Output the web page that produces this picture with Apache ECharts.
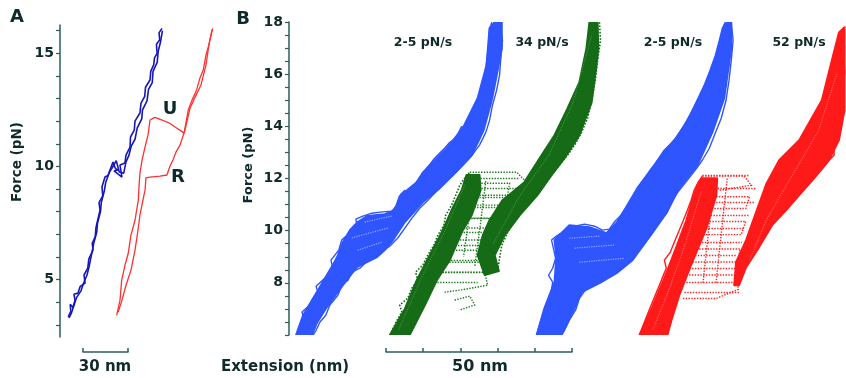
<!DOCTYPE html>
<html><head><meta charset="utf-8">
<script src="https://cdn.jsdelivr.net/npm/echarts@6/dist/echarts.min.js"></script>
<style>html,body{margin:0;padding:0;background:#fff}#c{width:846px;height:378px}</style>
</head><body><div id="c"></div>
<script>
// ---------- Panel A (x: extension nm, y: force pN) ----------
var aTicks = [3,4,5,6,7,8,9,10,11,12,13,14,15,16];
var aLabels = [5,10,15];
var aBlueUp = [[5.5,3.35],[7.2,3.6],[6.8,3.9],[8.7,3.77],[10,4.1],[9.3,4.35],[12,4.4],[13.5,4.7],[16.7,4.84],[16,5.2],[18.5,5.5],[19.2,5.9],[22,6.3],[21.5,6.6],[23.5,6.9],[24,7.3],[26.7,8.07],[26,8.4],[28.5,8.7],[28,9.1],[30,9.53],[32,9.6],[35.3,10.19],[37,9.9],[38.7,9.84],[36,9.8],[41.3,9.53],[40,10.06],[43.3,10.15],[44,10.5],[46.7,10.85],[47,11.3],[49.5,11.6],[50,12.0],[53.3,12.36],[54,12.8],[56.5,13.1],[57,13.5],[60,13.82],[60.5,14.2],[62.5,14.5],[63,14.8],[64.7,15.0],[64.3,15.4],[66.5,15.6],[66,15.9],[68,16.1]];
var aBlueDown = [[68.3,16.0],[67,15.5],[65.5,15.1],[64.8,14.6],[62,14.2],[61.5,13.7],[59,13.4],[58,12.9],[55,12.5],[54.5,12.1],[51.5,11.7],[50,11.2],[47.5,10.9],[46,10.5],[44,10.2],[42.5,9.7],[39.5,9.75],[37.5,10.25],[34.5,9.9],[33,9.75],[30.5,9.3],[29.5,8.9],[27.5,8.4],[27,8.0],[25,7.5],[24.5,7.1],[22.5,6.6],[21,6.1],[19.5,5.6],[18,5.2],[15.5,4.8],[14,4.5],[11,4.2],[9.5,3.9],[7.5,3.5],[6,3.3]];
var aRedStretch = [[37.8,3.42],[40,4.08],[41.1,4.96],[43.3,5.63],[45.5,6.16],[47.3,6.96],[50,7.62],[52.2,8.51],[52.7,9.17],[53.3,9.7],[54.7,10.28],[56.7,10.86],[58.7,11.39],[60,12.05],[63.3,12.17],[68,12.05],[73.3,11.9],[78,11.69],[82.7,11.47],[85.5,12.49],[88,12.93],[91.1,13.38],[93.3,13.91],[95.5,14.26],[97.3,14.92],[98.9,15.29],[101.8,16.1]];
var aRedRelax = [[101.3,16.03],[99.3,15.37],[97.3,14.48],[94,13.6],[90.7,13.15],[86.7,12.58],[83.3,11.6],[80,10.94],[77.3,10.63],[75.3,10.28],[73.3,10.01],[71.3,9.62],[66.7,9.57],[60,9.53],[57.3,9.49],[56.7,8.95],[55.3,8.51],[53.3,7.85],[52,7.18],[50,6.3],[47.3,5.41],[44,4.75],[41.3,4.08],[38.7,3.55]];

// ---------- Panel B (x: extension nm, y: force pN) ----------
var bTicks = [6,6.5,7,7.5,8,8.5,9,9.5,10,10.5,11,11.5,12,12.5,13,13.5,14,14.5,15,15.5,16,16.5,17,17.5,18];
var bLabels = [8,10,12,14,16,18];
var rateLabels = ['2-5 pN/s','34 pN/s','2-5 pN/s','52 pN/s'];
// bundle envelopes [extension nm, force pN]
var blue1 = [[1.9,6.0],[3.8,6.76],[6.5,7.41],[9.1,8.03],[11.8,8.68],[13.2,9.06],[14.5,9.56],[16.4,10.02],[18.5,10.33],[21.0,10.56],[25.8,10.63],[28.5,10.79],[29.8,11.32],[34.4,11.86],[37.1,12.39],[42.5,13.16],[46.8,13.93],[50.8,15.08],[53.2,16.34],[54.0,17.76],[55.4,18.0],[57.3,18.0],[57.3,16.99],[56.2,16.15],[54.6,15.0],[52.4,13.85],[49.2,12.89],[44.9,12.24],[40.6,11.63],[36.0,11.09],[31.2,10.33],[28.0,9.64],[25.8,9.26],[23.7,8.99],[18.3,8.6],[15.1,8.03],[10.2,7.07],[7.5,6.46],[6.2,6.0]];
var greenFolded = [[27.2,6.0],[31.2,7.0],[34.4,8.1],[37.9,9.06],[41.4,10.02],[43.8,10.79],[46.5,11.55],[47.8,12.13],[51.3,12.13],[51.6,11.55],[49.2,10.59],[46.8,10.02],[43.3,8.87],[39.8,8.1],[36.6,7.15],[32.5,6.0]];
var greenUnfolded = [[52.7,8.3],[50.8,9.06],[52.2,9.83],[54.0,10.4],[57.5,11.17],[63.4,11.86],[68.0,12.89],[71.5,13.66],[75.0,14.69],[78.2,15.69],[80.1,16.99],[80.9,17.99],[83.1,18.0],[83.3,16.99],[82.8,16.34],[81.5,14.92],[78.2,13.66],[74.2,12.78],[70.7,12.13],[66.9,11.36],[62.1,10.59],[58.1,9.83],[55.4,9.06],[56.5,8.45]];
var blue3 = [[66.7,6.0],[68.8,7.03],[71.5,8.03],[72.0,8.99],[71.5,9.64],[75.5,10.21],[80.9,10.13],[85.5,9.9],[88.4,10.33],[89.5,10.59],[93.8,11.63],[98.4,12.51],[101.1,13.08],[104.3,13.54],[108.6,14.54],[112.4,15.69],[115.1,16.72],[117.2,17.87],[118.0,18.0],[119.1,18.0],[119.1,16.99],[117.2,15.08],[114.0,13.77],[110.0,12.51],[105.1,11.63],[101.6,10.67],[97.8,9.9],[92.5,8.87],[88.2,8.37],[83.6,7.99],[78.8,7.64],[76.9,7.03],[73.4,6.0]];
var redFolded = [[94.4,6.0],[97.8,7.07],[101.6,8.37],[104.3,9.37],[107.0,10.4],[108.6,11.17],[110.0,11.74],[111.3,12.01],[115.3,12.01],[115.1,11.36],[112.4,10.09],[108.6,8.79],[105.1,7.53],[103.0,6.57],[101.9,6.0]];
var redUnfolded = [[119.9,7.91],[120.4,8.79],[123.1,9.64],[125.8,10.71],[128.5,11.78],[132.0,12.7],[137.4,13.47],[143.5,15.0],[146.2,16.53],[148.1,17.6],[149.6,17.8],[149.6,14.61],[148.1,13.47],[145.4,12.7],[141.4,12.01],[137.4,11.36],[133.9,10.79],[130.1,10.21],[126.6,9.37],[123.1,8.6],[121.2,7.91]];
// ragged edge traces of the bundles
var blue1Left = [[2.4,6.07],[4.0,6.65],[3.5,6.88],[5.6,7.15],[7.8,7.64],[7.3,7.87],[9.7,8.18],[11.8,8.56],[11.3,8.87],[13.4,9.25],[14.2,9.64],[15.3,9.79],[16.1,9.52],[16.9,9.9],[18.3,10.21],[18.0,10.44],[19.9,10.56],[22.3,10.67],[24.5,10.71],[27.7,10.75],[29.0,10.98],[30.1,11.4],[31.2,11.55],[32.0,11.25],[33.1,11.63],[34.7,11.94],[36.0,12.24],[37.4,12.43],[39.2,12.78],[41.9,13.16],[43.3,13.39],[44.9,13.54],[46.5,14.0],[47.3,13.85],[48.7,14.31],[50.3,14.77],[51.3,15.15],[52.7,15.77],[53.2,16.46],[53.8,17.11],[54.0,17.68],[54.6,17.99]];
var blue1Right = [[56.7,17.99],[57.5,17.3],[57.0,16.53],[56.7,15.96],[55.9,15.38],[54.8,14.81],[54.0,14.23],[53.0,13.77],[51.3,13.28],[49.7,12.97],[48.1,12.7],[46.0,12.39],[43.8,12.09],[41.9,11.82],[39.5,11.48],[37.4,11.17],[35.2,10.86],[33.1,10.48],[31.2,10.1],[29.3,9.72],[27.2,9.41],[25.0,9.18],[22.3,8.98],[20.7,8.79],[19.1,8.56],[16.9,8.41],[15.9,8.1],[14.2,7.91],[13.2,7.53],[11.0,7.15],[9.9,6.76],[8.3,6.49],[7.3,6.18],[6.5,6.0]];
var blue3Left = [[66.7,6.0],[67.7,6.49],[68.8,6.96],[69.9,7.34],[70.7,7.72],[71.0,8.03],[69.9,8.29],[71.0,8.56],[71.8,8.94],[71.2,9.33],[70.7,9.64],[72.0,9.79],[73.7,9.94],[75.0,10.1],[76.9,10.17],[79.6,10.25],[82.3,10.17],[84.4,10.02],[86.3,10.06],[87.6,10.33],[89.2,10.56],[91.1,10.94],[93.3,11.4],[95.2,11.86],[97.3,12.32],[99.7,12.78],[101.9,13.16],[104.0,13.54],[106.5,14.04],[108.3,14.54],[110.2,15.08],[111.8,15.57],[113.4,16.15],[114.8,16.72],[115.9,17.3],[116.7,17.76],[117.5,17.99]];
var blue3Right = [[119.1,17.99],[119.6,17.3],[119.1,16.53],[118.5,15.77],[117.7,15.0],[116.4,14.31],[114.8,13.74],[113.2,13.16],[111.3,12.7],[109.4,12.32],[107.3,11.94],[105.1,11.55],[103.0,11.17],[101.9,10.71],[99.7,10.33],[97.6,9.87],[95.2,9.41],[92.5,8.94],[90.1,8.6],[87.6,8.37],[85.0,8.1],[82.3,7.91],[79.8,7.72],[78.2,7.41],[77.2,6.96],[75.5,6.57],[74.2,6.18],[73.4,6.0]];
var greenLeft = [[27.2,6.0],[28.8,6.49],[30.4,6.88],[29.8,7.15],[32.0,7.41],[33.1,7.8],[34.7,8.1],[34.1,8.41],[36.0,8.68],[37.4,9.06],[39.0,9.44],[40.1,9.83],[41.7,10.21],[42.2,10.59],[43.8,10.98],[44.9,11.36],[46.0,11.74],[47.3,12.01],[48.7,12.24]];
var greenRight = [[83.6,17.99],[83.9,17.3],[83.1,16.53],[82.5,15.77],[81.5,15.0],[80.4,14.31],[78.8,13.77],[76.9,13.28],[75.0,12.89],[72.8,12.51],[70.7,12.13],[68.8,11.82],[66.9,11.48],[64.8,11.09],[62.6,10.71],[60.8,10.4],[58.9,9.94],[57.3,9.44],[56.7,8.94],[56.2,8.48]];
var redLeft = [[94.4,6.0],[95.7,6.49],[97.0,6.96],[98.1,7.34],[99.2,7.72],[100.5,8.18],[101.6,8.56],[101.1,8.87],[102.7,9.18],[104.0,9.64],[105.1,10.02],[106.2,10.4],[107.3,10.79],[108.3,11.17],[109.1,11.55],[110.2,11.86],[111.3,12.09]];
var redRight = [[149.7,16.15],[148.9,15.0],[148.1,14.04],[146.8,13.28],[146.8,12.89],[144.9,12.62],[142.7,12.24],[140.6,11.94],[138.7,11.63],[136.8,11.32],[134.7,10.98],[132.5,10.63],[130.6,10.33],[128.8,9.94],[126.6,9.44],[124.5,8.94],[122.6,8.48],[121.2,8.03]];
// light speckle strokes inside the dense bundles
var blue1Speckles = [[[20.4,10.33],[27.7,10.56]],[[16.9,9.72],[26.6,10.1]],[[18.5,9.25],[25.0,9.56]]];
var blue3Speckles = [[[76.9,9.33],[87.6,9.45]],[[78.2,8.79],[90.3,8.94]],[[75.5,9.71],[83.6,9.79]]];
var greenSpeckles = [[[29.5,6.2],[36.0,8.3],[42.0,10.0],[47.5,11.8]],[[55.0,9.5],[62.0,11.3],[70.0,12.9],[76.5,14.9],[81.5,17.5]]];
var redSpeckles = [[[98.0,6.2],[102.5,7.8],[106.5,9.4],[111.0,11.5]],[[123.0,8.5],[128.5,10.4],[135.0,12.0],[142.5,13.8],[147.5,16.0]]];
// transitions [x start nm, x end nm, force pN]
var greenJumps = [[47.8,62.1,12.0],[47.3,63.4,11.63],[46.0,60.8,11.28],[44.6,59.9,10.9],[43.8,58.1,10.48],[42.5,56.7,9.94],[42.5,55.9,9.44],[40.6,54.0,8.87],[39.8,53.5,8.41],[39.2,50.8,8.03]];
var redJumps = [[111.3,123.9,12.13],[112.4,125.8,11.63],[110.5,125.3,11.09],[111.3,123.9,10.59],[110.0,122.8,10.09],[109.7,122.0,9.56],[108.6,120.4,9.06],[107.8,121.2,8.56],[107.0,120.4,8.03],[106.5,121.2,7.64]];
// unfold/refold loops (dotted)
var greenLoops = [
  [[48.7,12.24],[61.3,12.24],[63.4,11.94]],
  [[47.3,11.82],[59.4,11.82],[58.9,11.36],[48.7,11.36]],
  [[45.4,10.98],[58.1,10.98],[56.7,10.48],[44.6,10.48]],
  [[43.8,10.1],[55.9,10.1],[55.1,9.64],[43.3,9.64]],
  [[42.7,9.25],[54.6,9.25],[54.0,8.79],[41.9,8.79]],
  [[40.6,8.41],[52.7,8.41],[53.5,7.91],[46.0,7.72],[41.9,7.64]],
  [[37.9,8.1],[34.7,7.72],[33.9,7.34],[36.6,7.15]],
  [[44.6,7.34],[48.7,7.49],[50.0,7.15],[46.0,6.96]],
  [[50.0,12.1],[48.5,10.5],[47.0,9.0]],
  [[53.0,11.9],[51.5,10.2],[50.0,8.6]]
];
var redLoops = [
  [[111.3,12.09],[122.6,12.09],[124.5,11.74],[115.9,11.55]],
  [[110.5,11.3],[124.0,11.3],[123.0,10.85],[110.0,10.85]],
  [[109.5,10.35],[123.0,10.35],[121.8,9.85],[108.8,9.85]],
  [[108.2,9.3],[121.5,9.3],[120.8,8.8],[107.5,8.8]],
  [[107.0,8.3],[120.5,8.3],[121.0,7.75],[115.0,7.4],[106.0,7.4]],
  [[114.5,12.0],[113.0,10.0],[111.5,8.0]],
  [[118.0,12.0],[116.5,10.0],[115.0,8.0]]
];

var axisColor = '#2b5e5e', textColor = '#0f2a2a';
var BLUE = '#2f55ff', GREEN = '#166b16', RED = '#ff1a1a';
var FONT = '"DejaVu Sans", sans-serif';

function poly(env, color){
  return {type:'custom', xAxisIndex:1, yAxisIndex:1, clip:true, data:env, silent:true,
    renderItem:function(params, api){
      if(params.dataIndex!==0) return null;
      var pts = env.map(function(p){return api.coord(p);});
      return {type:'polygon', shape:{points:pts}, style:{fill:color, stroke:color, lineWidth:2, lineJoin:'round'}};
    }};
}
function jumps(arr, color){
  return {type:'lines', coordinateSystem:'cartesian2d', xAxisIndex:1, yAxisIndex:1, silent:true,
    lineStyle:{color:color, width:1.4, type:'dotted', opacity:1},
    data: arr.map(function(j){return {coords:[[j[0],j[2]],[j[1],j[2]]]};})};
}
function polylines(arr, color, type, width, opacity){
  return {type:'lines', coordinateSystem:'cartesian2d', xAxisIndex:1, yAxisIndex:1, silent:true, polyline:true,
    lineStyle:{color:color, width:width, type:type, opacity:opacity},
    data: arr.map(function(c){return {coords:c};})};
}
function trace(d, color, xi, w, type){
  return {type:'line', data:d, xAxisIndex:xi, yAxisIndex:xi, showSymbol:false, silent:true,
    lineStyle:{color:color, width:w||1.3, type:type||'solid'}};
}
function txt(x,y,t,size,rot){
  return {type:'text', x:x, y:y, rotation:rot||0, silent:true,
    style:{text:t, font:'bold '+size+'px '+FONT, fill:textColor, textAlign:'center', textVerticalAlign:'middle', align:'center', verticalAlign:'middle'}};
}
var yLab = {fontSize:14, fontWeight:'bold', fontFamily:FONT, color:textColor, margin:6};

var chart = echarts.init(document.getElementById('c'), null, {renderer:'canvas'});
chart.setOption({
  animation:false,
  backgroundColor:'#fff',
  grid:[
    {left:60, top:25, width:165, height:312},
    {left:289, top:22, width:557, height:313},
    {left:83, top:340, width:45, height:12},
    {left:386, top:340, width:186, height:12}
  ],
  xAxis:[
    {type:'value', gridIndex:0, min:0, max:110, show:false},
    {type:'value', gridIndex:1, min:0, max:150, show:false},
    {type:'value', gridIndex:2, min:0, max:30, interval:30, axisLine:{lineStyle:{color:axisColor,width:1.5}}, axisTick:{inside:true,length:4,lineStyle:{color:axisColor,width:1.5}}, axisLabel:{show:false}, splitLine:{show:false}},
    {type:'value', gridIndex:3, min:0, max:50, interval:10, axisLine:{lineStyle:{color:axisColor,width:1.5}}, axisTick:{inside:true,length:4,lineStyle:{color:axisColor,width:1.5}}, axisLabel:{show:false}, splitLine:{show:false}}
  ],
  yAxis:[
    {type:'value', gridIndex:0, min:2.46, max:16.25, axisLine:{show:true,lineStyle:{color:axisColor,width:1.5}},
      axisTick:{show:true,length:4,customValues:aTicks,lineStyle:{color:axisColor,width:1.2}},
      axisLabel:Object.assign({customValues:aLabels}, yLab), splitLine:{show:false}},
    {type:'value', gridIndex:1, min:6, max:18, axisLine:{show:true,lineStyle:{color:axisColor,width:1.5}},
      axisTick:{show:true,length:4,customValues:bTicks,lineStyle:{color:axisColor,width:1.2}},
      axisLabel:Object.assign({customValues:bLabels}, yLab), splitLine:{show:false}},
    {type:'value', gridIndex:2, show:false, min:0, max:1},
    {type:'value', gridIndex:3, show:false, min:0, max:1}
  ],
  series:[
    trace(aBlueUp,'#1616b8',0,1.6), trace(aBlueDown,'#1616b8',0,1.6),
    trace(aRedStretch,'#ff3030',0,1.3), trace(aRedRelax,'#ff3030',0,1.3),
    jumps(greenJumps,'#1d7a1d'), jumps(redJumps,'#ff2020'),
    polylines(greenLoops,'#1d7a1d','dotted',1.4,1), polylines(redLoops,'#ff2020','dotted',1.4,1),
    poly(blue1,BLUE), poly(greenFolded,GREEN), poly(greenUnfolded,GREEN),
    poly(blue3,BLUE), poly(redFolded,RED), poly(redUnfolded,RED),
    trace(blue1Left,BLUE,1,1.4), trace(blue1Right,BLUE,1,1.4),
    trace(blue3Left,BLUE,1,1.4), trace(blue3Right,BLUE,1,1.4),
    trace(greenLeft,GREEN,1,1.6,'dotted'), trace(greenRight,GREEN,1,1.6,'dotted'),
    trace(redLeft,RED,1,1.4), trace(redRight,RED,1,1.4),
    polylines(blue1Speckles,'#ffffff','dotted',1.2,0.5), polylines(blue3Speckles,'#ffffff','dotted',1.2,0.5),
    polylines(greenSpeckles,'#5f9f5f','dotted',1.2,0.6), polylines(redSpeckles,'#ff8a8a','dotted',1.2,0.6)
  ],
  graphic:[
    txt(17,17,'A',18), txt(243,19,'B',18),
    txt(170,109,'U',18), txt(178,177,'R',18),
    txt(423,43,rateLabels[0],12.5), txt(542,43,rateLabels[1],12.5), txt(673,43,rateLabels[2],12.5), txt(799,43,rateLabels[3],12.5),
    txt(17,162,'Force (pN)',13.5,Math.PI/2), txt(249,165,'Force (pN)',13,Math.PI/2),
    txt(285,367,'Extension (nm)',15), txt(105,367,'30 nm',15), txt(480,367,'50 nm',16)
  ]
});
</script></body></html>
